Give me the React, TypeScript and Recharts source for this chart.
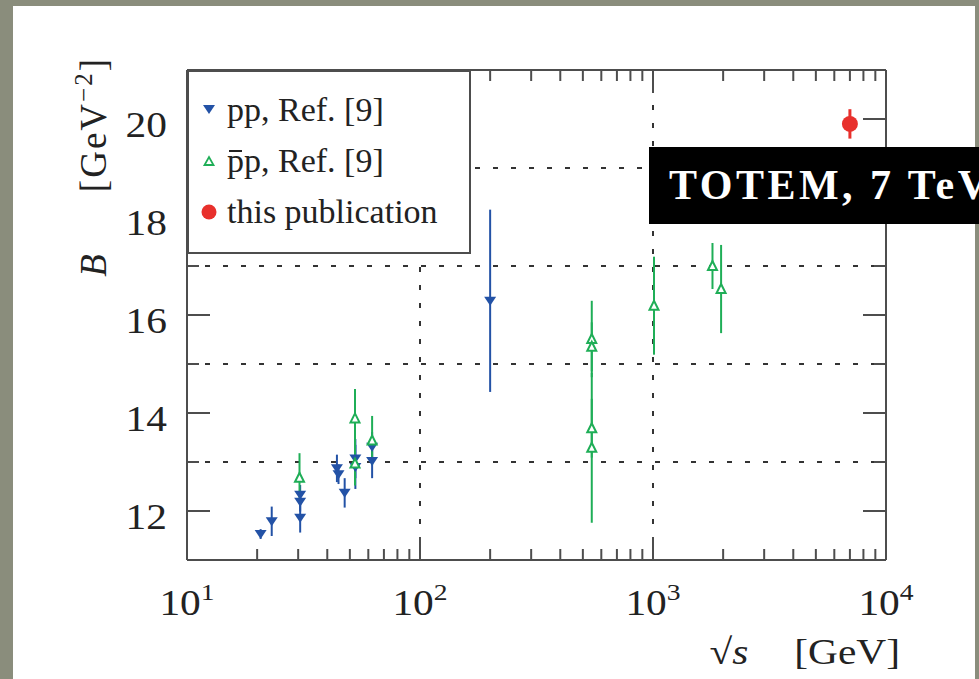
import React from "react";
import { ScatterChart, Scatter, XAxis, YAxis, ErrorBar, ReferenceLine, Legend } from "recharts";

// pp, Ref. [9]
const ppEnergy = [20.7, 23.1, 30.6, 30.6, 30.6, 44.0, 44.7, 47.5, 52.8, 52.8, 62.3, 62.3, 200];
const ppSlope = [11.53, 11.79, 12.33, 12.19, 11.86, 12.87, 12.75, 12.37, 13.07, 12.9, 13.31, 13.02, 16.29];
const ppErr = [0.1, 0.3, 0.2, 0.2, 0.3, 0.28, 0.2, 0.3, 0.4, 0.45, 0.3, 0.35, 1.86];

// pbar p, Ref. [9]
const pbarpEnergy = [30.4, 52.6, 52.6, 62.3, 546, 546, 546, 546, 1010, 1800, 1960];
const pbarpSlope = [12.68, 13.89, 12.97, 13.44, 15.51, 15.35, 13.69, 13.29, 16.19, 17.0, 16.53];
const pbarpErr = [0.5, 0.6, 0.45, 0.5, 0.78, 0.5, 0.6, 1.53, 1.0, 0.47, 0.9];

// this publication
const totemEnergy = [7000];
const totemSlope = [19.9];
const totemErr = [0.3];

const xTicks = [10, 20, 30, 40, 50, 60, 70, 80, 90, 100, 200, 300, 400, 500, 600, 700, 800, 900, 1000, 2000, 3000, 4000, 5000, 6000, 7000, 8000, 9000, 10000];
const xMajor = [10, 100, 1000, 10000];
const yTicks = [12, 13, 14, 15, 16, 17, 18, 19, 20];
const yMajor = [12, 14, 16, 18, 20];
const gridY = [13, 15, 17, 19];
const gridX = [100, 1000];

const BLUE = "#2352a6";
const GREEN = "#1fae57";
const RED = "#e8302c";
const AXIS = "#4d4d4d";
const INK = "#222";
const FONT = "'Liberation Serif', 'Times New Roman', serif";
const SX = 1.15; // the figure is slightly stretched sideways

const toRows = (xs: number[], ys: number[], es: number[]) =>
  xs.map((x, i) => ({ x, y: ys[i], err: es[i] }));

const ppData = toRows(ppEnergy, ppSlope, ppErr);
const pbarpData = toRows(pbarpEnergy, pbarpSlope, pbarpErr);
const totemData = toRows(totemEnergy, totemSlope, totemErr);

const DownTri = (p: any) => (
  <path d={`M${p.cx - 6},${p.cy - 4} L${p.cx + 6},${p.cy - 4} L${p.cx},${p.cy + 5} Z`} fill={BLUE} />
);
const UpTri = (p: any) => (
  <path
    d={`M${p.cx - 4.5},${p.cy + 4} L${p.cx + 4.5},${p.cy + 4} L${p.cx},${p.cy - 5} Z`}
    fill="#fff"
    stroke={GREEN}
    strokeWidth={2}
  />
);
const Dot = (p: any) => <circle cx={p.cx} cy={p.cy} r={8} fill={RED} />;

const BottomTick = (p: any) => {
  const v = p.payload.value;
  const major = xMajor.includes(v);
  return (
    <g>
      <line x1={p.x} x2={p.x} y1={p.y} y2={p.y - (major ? 23 : 11)} stroke={AXIS} strokeWidth={2} />
      {major && (
        <text
          transform={`translate(${p.x},${p.y + 55}) scale(${SX},1)`}
          textAnchor="middle"
          fontFamily={FONT}
          fontSize={36}
          fill={INK}
        >
          10
          <tspan dy={-15} fontSize={24}>
            {Math.round(Math.log10(v))}
          </tspan>
        </text>
      )}
    </g>
  );
};

const TopTick = (p: any) => {
  const major = xMajor.includes(p.payload.value);
  return <line x1={p.x} x2={p.x} y1={p.y} y2={p.y + (major ? 23 : 11)} stroke={AXIS} strokeWidth={2} />;
};

const LeftTick = (p: any) => {
  const v = p.payload.value;
  const major = yMajor.includes(v);
  return (
    <g>
      <line x1={p.x} x2={p.x + (major ? 23 : 12)} y1={p.y} y2={p.y} stroke={AXIS} strokeWidth={2} />
      {major && (
        <text
          transform={`translate(${p.x - 20},${p.y + 18}) scale(${SX},1)`}
          textAnchor="end"
          fontFamily={FONT}
          fontSize={36}
          fill={INK}
        >
          {v}
        </text>
      )}
    </g>
  );
};

const RightTick = (p: any) => {
  const major = yMajor.includes(p.payload.value);
  return <line x1={p.x} x2={p.x - (major ? 23 : 12)} y1={p.y} y2={p.y} stroke={AXIS} strokeWidth={2} />;
};

const YTitle = (p: any) => {
  const vb = p.viewBox;
  const x = vb.x - 80;
  const y = vb.y - 13;
  return (
    <text
      transform={`translate(${x},${y}) rotate(-90)`}
      textAnchor="end"
      fontFamily={FONT}
      fontSize={37}
      letterSpacing={2}
      fill={INK}
    >
      <tspan fontStyle="italic">B</tspan>
      <tspan dx={60}>[GeV</tspan>
      <tspan dy={-14} fontSize={25}>−2</tspan>
      <tspan dy={14}>]</tspan>
    </text>
  );
};

const XTitle = (p: any) => {
  const vb = p.viewBox;
  return (
    <text
      transform={`translate(${vb.x + vb.width + 14},${vb.y + 104}) scale(${SX},1)`}
      textAnchor="end"
      fontFamily={FONT}
      fontSize={36}
      fill={INK}
    >
      √<tspan fontStyle="italic">s</tspan>
      <tspan dx={40}>[GeV]</tspan>
    </text>
  );
};

const legendRows = [
  { label: "pp, Ref. [9]", marker: "down" },
  { label: "pp, Ref. [9]", marker: "up", bar: true },
  { label: "this publication", marker: "dot" },
];

const LegendBox = () => (
  <div
    style={{
      width: 284,
      height: 184,
      boxSizing: "border-box",
      border: `2px solid ${AXIS}`,
      background: "#fff",
      paddingTop: 12,
      paddingLeft: 9,
      fontFamily: FONT,
      fontSize: 34,
      color: INK,
    }}
  >
    {legendRows.map((r, i) => (
      <div key={i} style={{ display: "flex", alignItems: "center", height: 51, whiteSpace: "nowrap" }}>
        <svg width={22} height={22} style={{ marginRight: 7 }}>
          {r.marker === "down" && <path d="M5,6 L17,6 L11,15 Z" fill={BLUE} />}
          {r.marker === "up" && <path d="M6.5,15 L15.5,15 L11,7 Z" fill="#fff" stroke={GREEN} strokeWidth={1.8} />}
          {r.marker === "dot" && <circle cx={11} cy={11} r={7.5} fill={RED} />}
        </svg>
        {r.bar ? (
          <span>
            <span style={{ position: "relative" }}>
              p
              <span style={{ position: "absolute", left: 2, right: 2, top: 8, borderTop: `2px solid ${INK}` }} />
            </span>
            {r.label.slice(1)}
          </span>
        ) : (
          <span>{r.label}</span>
        )}
      </div>
    ))}
  </div>
);

export default function App() {
  return (
    <div style={{ position: "absolute", left: 0, top: 0, width: 979, height: 679, background: "#8a8d7c", overflow: "hidden" }}>
      <div style={{ position: "absolute", left: 13, top: 6, width: 962, height: 680, background: "#fff" }} />
      <div style={{ position: "absolute", left: 0, top: 0 }}>
        <ScatterChart width={979} height={679} margin={{ top: 69, right: 92, bottom: 118, left: 186 }}>
          <XAxis
            dataKey="x"
            type="number"
            scale="log"
            domain={[10, 10000]}
            allowDataOverflow
            ticks={xTicks}
            interval={0}
            height={1}
            tickSize={0}
            tickMargin={0}
            tick={<BottomTick />}
            axisLine={{ stroke: AXIS, strokeWidth: 2 }}
            label={<XTitle />}
          />
          <XAxis
            xAxisId="top"
            orientation="top"
            dataKey="x"
            type="number"
            scale="log"
            domain={[10, 10000]}
            allowDataOverflow
            ticks={xTicks}
            interval={0}
            height={1}
            tickSize={0}
            tickMargin={0}
            tick={<TopTick />}
            axisLine={{ stroke: AXIS, strokeWidth: 2 }}
          />
          <YAxis
            dataKey="y"
            type="number"
            domain={[11, 21]}
            allowDataOverflow
            ticks={yTicks}
            interval={0}
            width={1}
            tickSize={0}
            tickMargin={0}
            tick={<LeftTick />}
            axisLine={{ stroke: AXIS, strokeWidth: 2 }}
            label={<YTitle />}
          />
          <YAxis
            yAxisId="right"
            orientation="right"
            dataKey="y"
            type="number"
            domain={[11, 21]}
            allowDataOverflow
            ticks={yTicks}
            interval={0}
            width={1}
            tickSize={0}
            tickMargin={0}
            tick={<RightTick />}
            axisLine={{ stroke: AXIS, strokeWidth: 2 }}
          />
          {gridY.map((v) => (
            <ReferenceLine key={`gy${v}`} y={v} stroke="#333" strokeWidth={2} strokeDasharray="5 13" />
          ))}
          {gridX.map((v) => (
            <ReferenceLine key={`gx${v}`} x={v} stroke="#333" strokeWidth={2} strokeDasharray="5 13" />
          ))}
          <Scatter name="pp, Ref. [9]" data={ppData} shape={<DownTri />} isAnimationActive={false}>
            <ErrorBar dataKey="err" direction="y" width={0} stroke={BLUE} strokeWidth={2} isAnimationActive={false} />
          </Scatter>
          <Scatter name="pbar p, Ref. [9]" data={pbarpData} shape={<UpTri />} isAnimationActive={false}>
            <ErrorBar dataKey="err" direction="y" width={0} stroke={GREEN} strokeWidth={2} isAnimationActive={false} />
          </Scatter>
          <Scatter name="this publication" data={totemData} shape={<Dot />} isAnimationActive={false}>
            <ErrorBar dataKey="err" direction="y" width={0} stroke={RED} strokeWidth={3} isAnimationActive={false} />
          </Scatter>
          <Legend
            layout="horizontal"
            verticalAlign="middle"
            align="center"
            content={<LegendBox />}
            wrapperStyle={{ position: "absolute", left: 187, top: 70, width: 284, height: 184 }}
          />
        </ScatterChart>
      </div>
      <div
        style={{
          position: "absolute",
          left: 649,
          top: 147,
          width: 330,
          height: 77,
          background: "#000",
          color: "#fff",
          fontFamily: FONT,
          fontWeight: 700,
          fontSize: 42,
          letterSpacing: 3.5,
          lineHeight: "77px",
          paddingLeft: 20,
          boxSizing: "border-box",
          whiteSpace: "nowrap",
          overflow: "hidden",
        }}
      >
        TOTEM, 7 TeV
      </div>
    </div>
  );
}
